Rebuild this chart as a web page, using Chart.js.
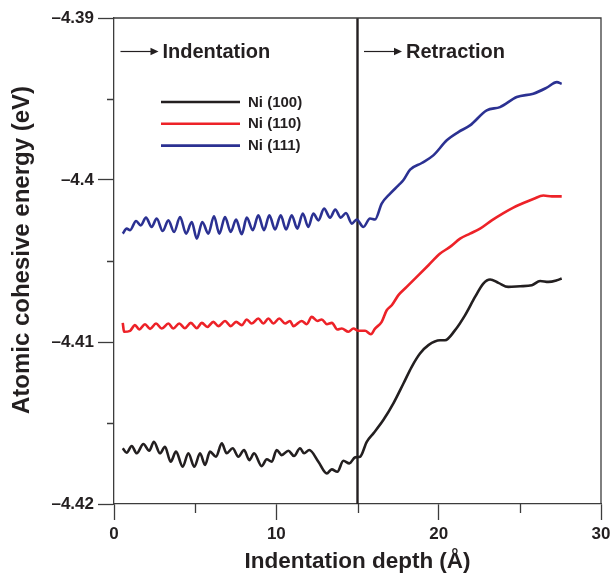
<!DOCTYPE html>
<html lang="en">
<head>
    <meta charset="UTF-8">
    <title>Atomic cohesive energy vs indentation depth</title>
    <script src="https://cdn.jsdelivr.net/npm/chart.js"></script>
    <style>
        body { margin: 0; background: #fff; }
        #wrap { width: 612px; height: 576px; }
    </style>
</head>
<body>
    <div id="wrap"><canvas id="energyChart"></canvas></div>
    <script>
        // values (depth in Å, energy in eV)
        const seriesLabels = ['Ni (100)', 'Ni (110)', 'Ni (111)'];
        const seriesColors = ['#231f20', '#ed2228', '#2b3192'];

        const ni100Depth = [0.54, 0.78, 1.09, 1.40, 1.81, 2.17, 2.46, 2.83, 3.14, 3.49, 3.82, 4.23, 4.58, 4.95, 5.30, 5.61, 5.91, 6.28, 6.64, 6.94, 7.31, 7.66, 8.01, 8.34, 8.63, 9.10, 9.41, 9.72, 10.02, 10.33, 10.74, 11.09, 11.46, 11.71, 12.03, 12.59, 13.11, 13.41, 13.76, 14.13, 14.50, 14.85, 15.16, 15.57, 15.98, 16.59, 17.21, 17.83, 18.34, 18.85, 19.37, 20.09, 20.39, 21.01, 21.63, 22.24, 22.75, 23.17, 23.68, 24.29, 25.02, 25.74, 26.25, 26.76, 27.28, 27.58];
        const ni100Energy = [-4.41656, -4.41684, -4.41642, -4.41687, -4.41630, -4.41671, -4.41616, -4.41687, -4.41647, -4.41739, -4.41677, -4.41770, -4.41687, -4.41770, -4.41687, -4.41759, -4.41677, -4.41708, -4.41626, -4.41687, -4.41656, -4.41708, -4.41667, -4.41729, -4.41687, -4.41766, -4.41724, -4.41739, -4.41667, -4.41698, -4.41671, -4.41704, -4.41656, -4.41687, -4.41667, -4.41739, -4.41811, -4.41786, -4.41801, -4.41733, -4.41749, -4.41712, -4.41708, -4.41616, -4.41564, -4.41482, -4.41379, -4.41256, -4.41153, -4.41071, -4.41019, -4.40989, -4.40989, -4.40927, -4.40834, -4.40722, -4.40639, -4.40614, -4.40635, -4.40660, -4.40656, -4.40650, -4.40623, -4.40629, -4.40619, -4.40608];

        const ni110Depth = [0.54, 0.62, 0.99, 1.29, 1.56, 1.91, 2.22, 2.59, 2.94, 3.35, 3.65, 4.02, 4.37, 4.73, 5.10, 5.41, 5.75, 6.12, 6.43, 6.84, 7.19, 7.52, 7.87, 8.18, 8.48, 8.89, 9.20, 9.51, 9.82, 10.18, 10.54, 10.84, 11.05, 11.56, 11.87, 12.18, 12.53, 12.80, 13.11, 13.42, 13.76, 14.03, 14.44, 14.75, 15.05, 15.47, 15.82, 16.08, 16.49, 16.80, 17.11, 17.52, 18.03, 18.65, 19.37, 20.09, 20.70, 21.32, 21.93, 22.55, 23.27, 23.99, 24.60, 25.22, 25.83, 26.45, 26.97, 27.58];
        const ni110Energy = [-4.40882, -4.40937, -4.40931, -4.40896, -4.40923, -4.40890, -4.40919, -4.40886, -4.40917, -4.40886, -4.40917, -4.40886, -4.40915, -4.40882, -4.40915, -4.40882, -4.40907, -4.40876, -4.40902, -4.40870, -4.40902, -4.40876, -4.40896, -4.40861, -4.40886, -4.40855, -4.40886, -4.40855, -4.40886, -4.40855, -4.40886, -4.40870, -4.40902, -4.40870, -4.40890, -4.40845, -4.40870, -4.40861, -4.40890, -4.40882, -4.40923, -4.40917, -4.40937, -4.40917, -4.40931, -4.40931, -4.40952, -4.40917, -4.40876, -4.40804, -4.40773, -4.40711, -4.40660, -4.40598, -4.40526, -4.40454, -4.40413, -4.40362, -4.40331, -4.40300, -4.40249, -4.40204, -4.40170, -4.40142, -4.40117, -4.40096, -4.40101, -4.40101];

        const ni111Depth = [0.54, 0.78, 0.99, 1.36, 1.65, 1.97, 2.32, 2.63, 3.00, 3.35, 3.70, 4.07, 4.44, 4.79, 5.10, 5.44, 5.81, 6.16, 6.49, 6.84, 7.19, 7.52, 7.87, 8.18, 8.55, 8.89, 9.24, 9.57, 9.92, 10.27, 10.60, 10.95, 11.29, 11.63, 11.97, 12.28, 12.59, 12.94, 13.31, 13.63, 13.97, 14.29, 14.65, 14.95, 15.36, 15.77, 16.08, 16.49, 17.01, 17.52, 17.82, 18.24, 18.96, 19.67, 20.50, 21.21, 21.93, 22.96, 23.78, 24.81, 25.83, 26.66, 27.28, 27.58];
        const ni111Energy = [-4.40331, -4.40300, -4.40310, -4.40253, -4.40280, -4.40232, -4.40290, -4.40238, -4.40315, -4.40249, -4.40321, -4.40228, -4.40331, -4.40259, -4.40362, -4.40259, -4.40331, -4.40224, -4.40331, -4.40228, -4.40321, -4.40244, -4.40335, -4.40232, -4.40310, -4.40218, -4.40310, -4.40218, -4.40306, -4.40218, -4.40306, -4.40218, -4.40300, -4.40207, -4.40290, -4.40207, -4.40249, -4.40177, -4.40232, -4.40183, -4.40232, -4.40204, -4.40269, -4.40244, -4.40290, -4.40238, -4.40244, -4.40146, -4.40084, -4.40033, -4.40002, -4.39936, -4.39895, -4.39848, -4.39755, -4.39704, -4.39663, -4.39570, -4.39550, -4.39488, -4.39467, -4.39430, -4.39396, -4.39406];

        // indentation / retraction switch
        const switchDepth = 15;
        const phaseLabels = ['Indentation', 'Retraction'];
        const phaseStart = [0.4, 15.4];

        const yMin = -4.42, yMax = -4.39;
        const xMin = 0, xMax = 30;
        const yTitle = 'Atomic cohesive energy (eV)';

        const FONT = '"Liberation Sans", Arial, Helvetica, sans-serif';
        const INK = '#231f20';
        const AXIS = '#3c3c3c';

        const pts = (xs, ys) => xs.map((x, i) => ({ x: x, y: ys[i] }));
        const isMajorY = v => Math.abs(Math.round(v * 200)) % 2 === 0;
        const isMajorX = v => Math.round(v) % 10 === 0;

        const datasets = [
            [ni100Depth, ni100Energy],
            [ni110Depth, ni110Energy],
            [ni111Depth, ni111Energy]
        ].map((s, i) => ({
            label: seriesLabels[i],
            data: pts(s[0], s[1]),
            borderColor: seriesColors[i],
            borderWidth: 2.6,
            pointRadius: 0,
            cubicInterpolationMode: 'monotone',
            fill: false
        }));

        datasets.push({
            label: 'switch',
            data: [{ x: switchDepth, y: yMin }, { x: switchDepth, y: yMax }],
            borderColor: INK,
            borderWidth: 2.4,
            pointRadius: 0,
            fill: false
        });

        function arrowText(ctx, x0, y0, text) {
            ctx.strokeStyle = INK;
            ctx.fillStyle = INK;
            ctx.lineWidth = 1.2;
            ctx.beginPath();
            ctx.moveTo(x0, y0);
            ctx.lineTo(x0 + 31, y0);
            ctx.stroke();
            ctx.beginPath();
            ctx.moveTo(x0 + 38, y0);
            ctx.lineTo(x0 + 30, y0 - 3.8);
            ctx.lineTo(x0 + 30, y0 + 3.8);
            ctx.closePath();
            ctx.fill();
            ctx.font = 'bold 20px ' + FONT;
            ctx.textBaseline = 'middle';
            ctx.textAlign = 'left';
            ctx.fillText(text, x0 + 42, y0 + 1);
        }

        const overlay = {
            id: 'overlay',
            afterDraw(chart) {
                const { ctx, chartArea: a, scales: { x, y } } = chart;
                ctx.save();

                // top and right frame
                ctx.strokeStyle = AXIS;
                ctx.lineWidth = 1.3;
                ctx.beginPath();
                ctx.moveTo(a.left, a.top);
                ctx.lineTo(a.right, a.top);
                ctx.lineTo(a.right, a.bottom);
                ctx.stroke();

                // short minor ticks
                ctx.beginPath();
                y.ticks.forEach(t => {
                    if (isMajorY(t.value)) return;
                    const py = Math.round(y.getPixelForValue(t.value)) + 0.5;
                    ctx.moveTo(a.left - 7, py);
                    ctx.lineTo(a.left, py);
                });
                x.ticks.forEach(t => {
                    if (isMajorX(t.value)) return;
                    const px = Math.round(x.getPixelForValue(t.value)) + 0.5;
                    ctx.moveTo(px, a.bottom);
                    ctx.lineTo(px, a.bottom + 9);
                });
                ctx.stroke();

                // y title, sits a little above the axis centre in the original
                ctx.save();
                ctx.translate(22, 250);
                ctx.rotate(-Math.PI / 2);
                ctx.fillStyle = INK;
                ctx.font = 'bold 24px ' + FONT;
                ctx.textAlign = 'center';
                ctx.textBaseline = 'middle';
                ctx.fillText(yTitle, 0, 0);
                ctx.restore();

                // phase labels
                const ay = a.top + 33.5;
                phaseLabels.forEach((lbl, i) => {
                    arrowText(ctx, x.getPixelForValue(phaseStart[i]), ay, lbl);
                });

                // legend
                const lx = a.left + 47, ly = a.top + 84, gap = 21.8;
                seriesLabels.forEach((lbl, i) => {
                    const yy = ly + i * gap;
                    ctx.strokeStyle = seriesColors[i];
                    ctx.lineWidth = 2.6;
                    ctx.beginPath();
                    ctx.moveTo(lx, yy);
                    ctx.lineTo(lx + 79, yy);
                    ctx.stroke();
                    ctx.fillStyle = INK;
                    ctx.font = 'bold 15px ' + FONT;
                    ctx.textBaseline = 'middle';
                    ctx.textAlign = 'left';
                    ctx.fillText(lbl, lx + 87, yy + 0.5);
                });

                ctx.restore();
            }
        };

        new Chart(document.getElementById('energyChart'), {
            type: 'line',
            data: { datasets: datasets },
            options: {
                responsive: true,
                maintainAspectRatio: false,
                animation: false,
                layout: { padding: { top: 18, right: 11, left: 0, bottom: 0 } },
                plugins: { legend: { display: false }, tooltip: { enabled: false } },
                scales: {
                    x: {
                        type: 'linear',
                        min: xMin,
                        max: xMax,
                        afterFit: s => {
                            s.height = 72;
                            s.paddingLeft = 0;
                            s.paddingRight = 0;
                        },
                        border: { display: true, color: AXIS, width: 1.3 },
                        grid: {
                            drawOnChartArea: false,
                            drawTicks: true,
                            tickLength: 16,
                            tickWidth: 1.3,
                            tickColor: c => isMajorX(c.tick.value) ? AXIS : 'rgba(0,0,0,0)'
                        },
                        ticks: {
                            stepSize: 5,
                            autoSkip: false,
                            maxRotation: 0,
                            padding: 4,
                            color: INK,
                            font: { family: FONT, size: 17, weight: 'bold' },
                            callback: v => isMajorX(v) ? String(v) : ''
                        },
                        title: {
                            display: true,
                            text: 'Indentation depth (Å)',
                            color: INK,
                            font: { family: FONT, size: 22.5, weight: 'bold', lineHeight: 1.2 },
                            padding: { top: 0, bottom: 1 }
                        }
                    },
                    y: {
                        min: yMin,
                        max: yMax,
                        afterFit: s => { s.width = 114; },
                        border: { display: true, color: AXIS, width: 1.3 },
                        grid: {
                            drawOnChartArea: false,
                            drawTicks: true,
                            tickLength: 16,
                            tickWidth: 1.3,
                            tickColor: c => isMajorY(c.tick.value) ? AXIS : 'rgba(0,0,0,0)'
                        },
                        ticks: {
                            stepSize: 0.005,
                            autoSkip: false,
                            padding: 4,
                            color: INK,
                            font: { family: FONT, size: 17, weight: 'bold' },
                            callback: v => isMajorY(v) ? String(parseFloat(v.toFixed(2))).replace('-', '\u2013') : ''
                        },
                        title: { display: false }
                    }
                }
            },
            plugins: [overlay]
        });
    </script>
</body>
</html>
